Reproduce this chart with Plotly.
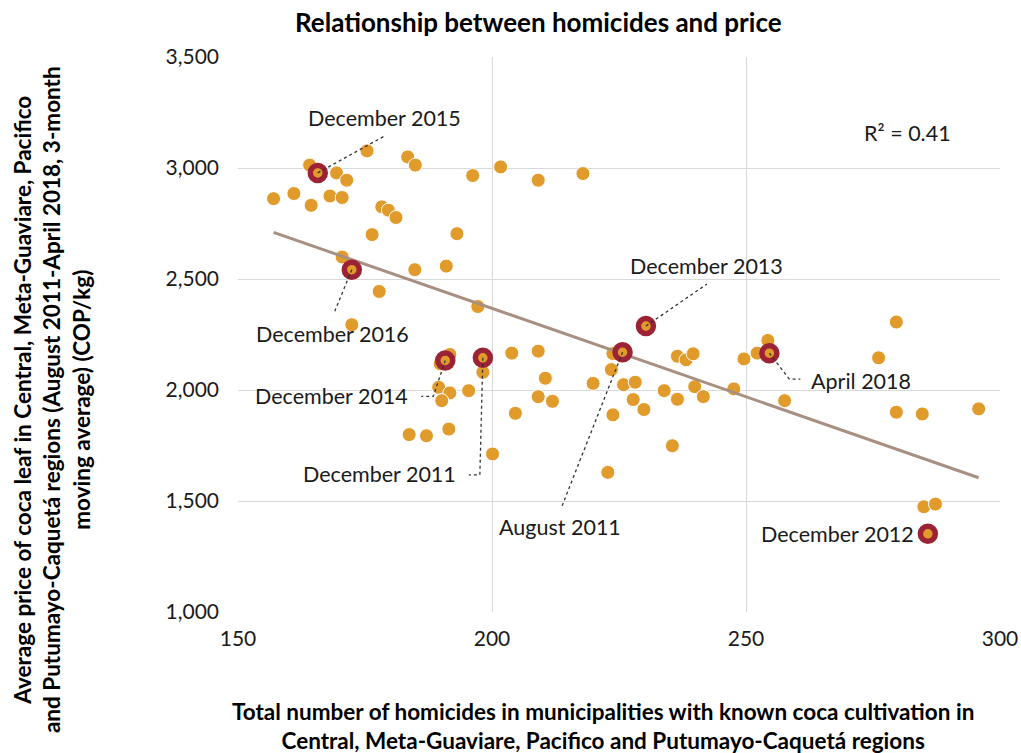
import numpy as np
import plotly.graph_objects as go

# ---------------- data ----------------
homicides = [175.4, 164.1, 169.4, 171.4, 183.4, 184.9, 196.2, 157.0, 161.0, 164.4,
             168.1, 170.5, 178.3, 179.6, 181.1, 176.4, 193.1, 170.5, 184.8, 191.0,
             177.8, 197.2, 172.4, 201.7, 209.1, 217.9, 191.7, 198.2, 189.5, 191.7,
             190.1, 195.4, 203.9, 209.1, 210.5, 209.1, 211.9, 204.6, 183.7, 187.1,
             191.5, 200.1, 222.8, 223.8, 223.5, 219.9, 225.9, 228.2, 227.8, 229.9,
             223.8, 235.5, 236.5, 238.2, 239.6, 233.9, 236.5, 239.9, 241.6, 247.6,
             249.6, 252.2, 254.3, 257.6, 279.6, 276.1, 279.6, 284.7, 295.8, 285.0,
             287.3, 189.8]
price = [3077, 3013, 2978, 2945, 3050, 3013, 2966, 2862, 2885, 2832,
         2874, 2867, 2825, 2810, 2777, 2700, 2704, 2599, 2542, 2558,
         2444, 2376, 2294, 3005, 2945, 2975, 2160, 2080, 2012, 1987,
         1952, 1997, 2166, 2175, 2053, 1970, 1949, 1895, 1799, 1794,
         1824, 1712, 1629, 2164, 2092, 2030, 2024, 2035, 1957, 1912,
         1888, 1749, 2152, 2136, 2163, 1997, 1958, 2015, 1970, 2005,
         2140, 2166, 2223, 1952, 2306, 2145, 1900, 1892, 1915, 1474,
         1486, 2118]

hl_labels = ["December 2015", "December 2016", "December 2014", "December 2011",
             "August 2011", "December 2013", "April 2018", "December 2012"]
hl_homicides = [165.7, 172.4, 190.8, 198.2, 225.7, 230.3, 254.6, 285.8]
hl_price = [2978, 2542, 2133, 2145, 2170, 2288, 2166, 1352]

title_text = "Relationship between homicides and price"
x_title = ("Total number of homicides in municipalities with known coca cultivation in<br>"
           "Central, Meta-Guaviare, Pacifico and Putumayo-Caquetá regions")
y_title = ("Average price of coca leaf in Central, Meta-Guaviare, Pacifico<br>"
           "and Putumayo-Caquetá regions (August 2011-April 2018, 3-month<br>"
           "moving average) (COP/kg)")

# ---------------- styling / label placement (pixels) ----------------
ORANGE = "#E09B2B"
RED = "#9B2335"
TREND = "#A89080"
FONT = "Lato"
# label offsets: (xshift, yshift, xanchor) and leader path offsets (dx, dy up)
label_pos = {
    "December 2015": (67, 55, "center", [(0, 0), (67, 37)]),
    "December 2016": (-19, -64, "center", [(0, 0), (-18, -44)]),
    "December 2014": (-35, -36, "right", [(0, 0), (-12, -36), (-24, -36)]),
    "December 2011": (-25, -116, "right", [(0, 0), (-3, -117), (-14, -117)]),
    "August 2011": (-63, -175, "center", [(0, 0), (-61, -155)]),
    "December 2013": (61, 60, "center", [(0, 0), (61, 42)]),
    "April 2018": (40, -28, "left", [(0, 0), (20, -26), (31, -26)]),
    "December 2012": (-12, 0, "right", []),
}

all_x = np.array(homicides + hl_homicides)
all_y = np.array(price + hl_price)
slope, intercept = np.polyfit(all_x, all_y, 1)
pred = slope * all_x + intercept
r2 = 1 - np.sum((all_y - pred) ** 2) / np.sum((all_y - all_y.mean()) ** 2)
tx = np.array([all_x.min(), all_x.max()])
ty = slope * tx + intercept

fig = go.Figure()
fig.add_trace(go.Scatter(x=homicides, y=price, mode="markers",
                         marker=dict(color=ORANGE, size=14, line=dict(color="white", width=1)),
                         hoverinfo="x+y", showlegend=False))
fig.add_trace(go.Scatter(x=tx, y=ty, mode="lines", line=dict(color=TREND, width=3),
                         hoverinfo="skip", showlegend=False))
fig.add_trace(go.Scatter(x=hl_homicides, y=hl_price, mode="markers", text=hl_labels,
                         marker=dict(color=ORANGE, size=15, line=dict(color=RED, width=5.5)),
                         hoverinfo="text+x+y", showlegend=False))

annotations = []
shapes = []
for lab, hx, hy in zip(hl_labels, hl_homicides, hl_price):
    xs, ys, xa, path = label_pos[lab]
    annotations.append(dict(x=hx, y=hy, xref="x", yref="y", text=lab, showarrow=False,
                            xshift=xs, yshift=ys, xanchor=xa, yanchor="middle",
                            font=dict(family=FONT, size=21.5, color="#1a1a1a")))
    if path:
        d = "M " + " L ".join(f"{px},{py}" for px, py in path)
        shapes.append(dict(type="path", path=d, xref="x", yref="y",
                           xsizemode="pixel", ysizemode="pixel", xanchor=hx, yanchor=hy,
                           line=dict(color="#333333", width=1.3, dash="dot")))

annotations.append(dict(x=0.879, y=0.863, xref="paper", yref="paper",
                        text=f"R² = {r2:.2f}", showarrow=False,
                        xanchor="center", yanchor="middle",
                        font=dict(family=FONT, size=21.5, color="#1a1a1a")))
annotations.append(dict(x=0.394, y=1.063, xref="paper", yref="paper", text=f"<b>{title_text}</b>",
                        showarrow=False, xanchor="center", yanchor="middle",
                        font=dict(family=FONT, size=26, color="#000000")))
annotations.append(dict(x=0.479, y=-0.205, xref="paper", yref="paper", text=f"<b>{x_title}</b>",
                        showarrow=False, xanchor="center", yanchor="middle",
                        font=dict(family=FONT, size=22.5, color="#000000")))
annotations.append(dict(x=-0.244, y=0.382, xref="paper", yref="paper", text=f"<b>{y_title}</b>",
                        showarrow=False, xanchor="center", yanchor="middle", textangle=-90,
                        font=dict(family=FONT, size=22.5, color="#000000")))

fig.update_layout(
    width=1021, height=753,
    margin=dict(l=238, r=21, t=57, b=141),
    paper_bgcolor="white", plot_bgcolor="white",
    font=dict(family=FONT, size=21, color="#1a1a1a"),
    annotations=annotations, shapes=shapes,
    xaxis=dict(range=[150, 300], dtick=50, tick0=150, showgrid=True, gridcolor="#D9D9D9",
               gridwidth=1, zeroline=False, showline=False, ticks="", ticklen=0,
               ticklabelstandoff=12, ticklabeloverflow="allow", automargin=False,
               tickfont=dict(family=FONT, size=21, color="#1a1a1a")),
    yaxis=dict(range=[1000, 3500], dtick=500, tick0=1000, showgrid=True, gridcolor="#D9D9D9",
               gridwidth=1, zeroline=False, showline=False, ticks="", tickformat=",",
               ticklabelstandoff=18, automargin=False,
               tickfont=dict(family=FONT, size=21, color="#1a1a1a")),
)

fig.write_html("out.html", config={"displayModeBar": False},
               post_script="document.body.style.margin='0';document.body.style.overflow='hidden';")
